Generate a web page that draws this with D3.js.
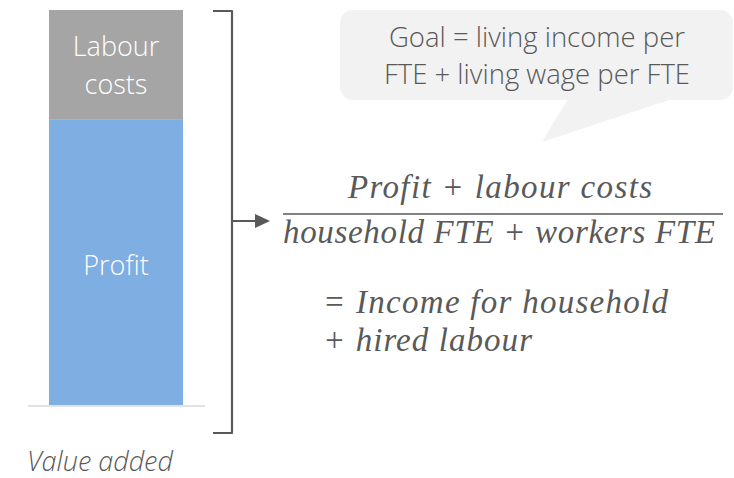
<!DOCTYPE html>
<html>
<head>
<meta charset="utf-8">
<script src="https://cdn.jsdelivr.net/npm/d3@7"></script>
<style>
  html, body { margin: 0; padding: 0; background: #fff; }
  svg { display: block; }
</style>
</head>
<body>
<svg id="chart" width="734" height="478"></svg>
<script>
// ---- data ----
const categories = ["Value added"];
const seriesNames = ["Profit", "Labour costs"];
const profitValues = [72.2];
const labourValues = [27.8];
const seriesLabels = [["Profit"], ["Labour", "costs"]];
const seriesColors = ["#7faee3", "#a5a5a5"];
const bubbleLines = ["Goal = living income per", "FTE + living wage per FTE"];
const numeratorText = "Profit + labour costs";
const denominatorText = "household FTE + workers FTE";
const resultLines = ["= Income for household", "+ hired labour"];

const svg = d3.select("#chart");

const rows = categories.map((c, i) => ({ cat: c, "Profit": profitValues[i], "Labour costs": labourValues[i] }));
const stacked = d3.stack().keys(seriesNames)(rows);

const x = d3.scaleBand().domain(categories).range([49, 183]).padding(0);
const y = d3.scaleLinear().domain([0, 100]).range([405, 10]);

// baseline
svg.append("line")
  .attr("x1", 28).attr("x2", 205)
  .attr("y1", y(0) + 1).attr("y2", y(0) + 1)
  .attr("stroke", "#d9d9d9").attr("stroke-width", 1.5);

// bars
const layer = svg.selectAll("g.layer").data(stacked).join("g")
  .attr("class", "layer")
  .attr("fill", (d, i) => seriesColors[i]);
layer.selectAll("rect").data(d => d).join("rect")
  .attr("x", d => x(d.data.cat))
  .attr("width", x.bandwidth())
  .attr("y", d => y(d[1]))
  .attr("height", d => y(d[0]) - y(d[1]));

// bar labels
const labelShift = [13, 10];
stacked.forEach((s, i) => {
  const d = s[0];
  const cx = x(d.data.cat) + x.bandwidth() / 2;
  const lines = seriesLabels[i];
  const mid = (y(d[0]) + y(d[1])) / 2;
  const lh = 38;
  lines.forEach((t, k) => {
    svg.append("text")
      .attr("x", cx)
      .attr("y", mid + (k - (lines.length - 1) / 2) * lh + labelShift[i])
      .attr("text-anchor", "middle")
      .attr("font-family", "'Open Sans', sans-serif")
      .attr("font-weight", 300)
      .attr("font-size", 27)
      .attr("fill", "#ffffff")
      .text(t);
  });
});

// category label
svg.append("text")
  .attr("x", 27).attr("y", 471)
  .attr("font-family", "'Open Sans', sans-serif")
  .attr("font-style", "italic")
  .attr("font-weight", 300)
  .attr("font-size", 27)
  .attr("fill", "#595959")
  .text(categories[0]);

// bracket
const bx = 232;
svg.append("path")
  .attr("d", `M213,${y(100) + 1} L${bx},${y(100) + 1} L${bx},433 L213,433`)
  .attr("fill", "none").attr("stroke", "#595959").attr("stroke-width", 2.2)
  .attr("stroke-linejoin", "round");

// arrow
svg.append("line")
  .attr("x1", bx).attr("x2", 256).attr("y1", 221).attr("y2", 221)
  .attr("stroke", "#595959").attr("stroke-width", 2);
svg.append("path")
  .attr("d", "M255,214 L270,221 L255,228 Z")
  .attr("fill", "#595959");

// speech bubble
svg.append("path")
  .attr("d", "M568,99 L542,142 L672,99 Z")
  .attr("fill", "#f2f2f2");
svg.append("rect")
  .attr("x", 340).attr("y", 10).attr("width", 393).attr("height", 90)
  .attr("rx", 13).attr("ry", 13)
  .attr("fill", "#f2f2f2");
bubbleLines.forEach((t, k) => {
  svg.append("text")
    .attr("x", 537).attr("y", 47 + k * 37)
    .attr("text-anchor", "middle")
    .attr("font-family", "'Open Sans', sans-serif")
    .attr("font-weight", 300)
    .attr("font-size", 27.5)
    .attr("fill", "#595959")
    .text(t);
});

// formula
const mathFont = "'Liberation Serif', 'DejaVu Serif', serif";
function mathText(t, x0, yb, len) {
  svg.append("text")
    .attr("x", x0).attr("y", yb)
    .attr("font-family", mathFont)
    .attr("font-style", "italic")
    .attr("font-size", 33)
    .attr("fill", "#595959")
    .attr("textLength", len)
    .attr("lengthAdjust", "spacing")
    .text(t);
}
mathText(numeratorText, 348, 198, 304);
svg.append("line")
  .attr("x1", 283).attr("x2", 723).attr("y1", 214).attr("y2", 214)
  .attr("stroke", "#595959").attr("stroke-width", 1.5);
mathText(denominatorText, 283, 243, 432);
mathText(resultLines[0], 323, 313, 345);
mathText(resultLines[1], 323, 351, 209);
</script>
</body>
</html>
